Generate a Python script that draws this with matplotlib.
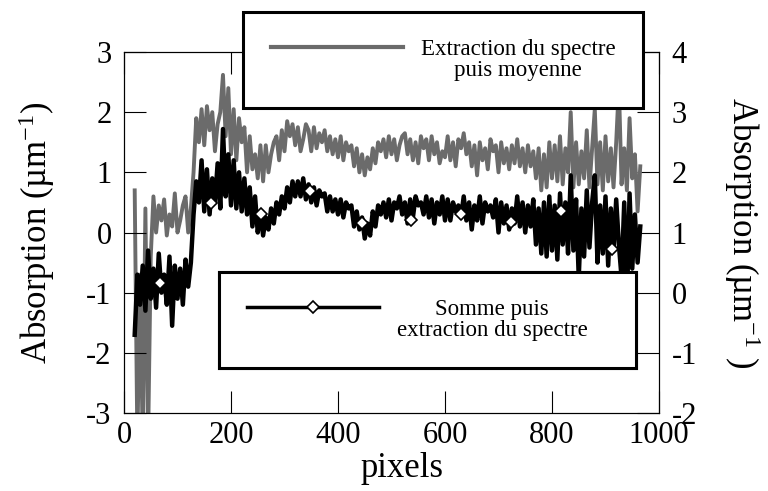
import numpy as np
import matplotlib
matplotlib.use("Agg")
import matplotlib.pyplot as plt
from matplotlib.lines import Line2D
from matplotlib.legend_handler import HandlerLine2D

plt.rcParams['font.family'] = ['Liberation Serif', 'DejaVu Serif']
plt.rcParams['mathtext.fontset'] = 'custom'
plt.rcParams['mathtext.rm'] = 'Liberation Serif'
plt.rcParams['mathtext.default'] = 'regular'
plt.rcParams['axes.unicode_minus'] = False

# pixel grid of the traces
pixels = np.arange(20, 966, 5)

# "Extraction du spectre puis moyenne" (right axis)
moyenne = [
    1.7, -2.5, 0.3, -2.5, 1.4, -2.5, 0.6, 1.6,
    1.0, 1.45, 1.2, 1.55, 0.95, 1.3, 1.1, 1.65, 1.0, 1.2, 1.45, 1.6, 1.0, 1.4,
    2.0, 2.9, 2.5,
    3.05, 2.45, 3.1, 2.7, 3.0, 2.35, 2.8, 3.0, 3.62, 2.6, 3.4, 2.3,
    3.05, 2.2, 2.9, 2.5, 2.75, 2.0, 2.6, 2.05, 2.3, 1.9, 2.45,
    1.85, 2.45, 2.0, 2.3, 2.5, 2.6, 2.2, 2.7,
    2.35, 2.85, 2.6, 2.8, 2.45, 2.75, 2.35, 2.55, 2.8, 2.7, 2.35, 2.75, 2.4, 2.65,
    2.5, 2.7, 2.35, 2.6, 2.3, 2.55, 2.25,
    2.6, 2.2, 2.5, 2.35, 2.45, 2.1, 2.4, 2.0, 2.3, 1.95, 2.25, 2.05,
    2.4, 2.15, 2.5, 2.35, 2.55, 2.25, 2.6, 2.3, 2.55, 2.2, 2.45, 2.6, 2.65, 2.3,
    2.55, 2.2, 2.5, 2.15, 2.6, 2.4, 2.55, 2.2, 2.6, 2.3, 2.5, 2.15, 2.35, 2.25,
    2.6, 2.2, 2.5, 2.1, 2.55, 2.4, 2.65, 2.3, 2.5, 2.1, 2.45, 1.95, 2.5, 2.2,
    2.4, 2.05, 2.55, 2.35, 2.45, 2.0, 2.5, 2.15, 2.4, 2.05, 2.45, 2.15, 2.55, 2.1,
    2.4, 2.0, 2.45, 2.1, 2.35, 1.9, 2.4, 1.7,
    2.3, 1.75, 2.5, 1.9, 2.45, 1.85, 2.6, 1.8, 2.4, 2.0, 3.0, 1.75, 2.5, 1.8,
    2.35, 1.9, 2.7, 1.75, 2.4, 3.05, 1.8, 2.5, 1.7, 2.6, 1.85, 2.4, 1.75, 2.5,
    3.45, 1.8, 2.4, 1.7, 2.9, 1.9, 2.3, 1.35, 2.1,
]

# "Somme puis extraction du spectre" (left axis)
somme = [
    -1.7, -0.7, -1.2, -0.55, -1.3, -0.3, -1.1, -0.6, -1.25, -0.35, -1.0,
    -0.7, -1.2, -0.4, -1.55, -0.55, -1.1, -0.6, -1.2, -0.45, -0.9, -0.5,
    0.3, 0.85, 0.5,
    1.2, 0.35, 1.05, 0.3, 0.9, 0.5, 1.15, 0.4, 1.72, 0.6, 1.3, 0.45,
    1.2, 0.4, 1.0, 0.35, 0.9, 0.3, 0.75,
    0.1, 0.6, 0.0, 0.35, -0.05, 0.25, 0.05,
    0.4, 0.15, 0.5, 0.3, 0.6, 0.4, 0.75, 0.5, 0.85, 0.6,
    0.85, 0.6, 0.9, 0.55, 0.8,
    0.5, 0.75, 0.45, 0.7, 0.6, 0.65, 0.35, 0.6, 0.35, 0.55, 0.3,
    0.55, 0.25, 0.5, 0.4, 0.45, 0.1, 0.35, 0.05, 0.25, -0.1, 0.15,
    -0.05, 0.35, 0.1, 0.45, 0.3, 0.5, 0.25, 0.55, 0.2, 0.5, 0.4, 0.6, 0.3,
    0.5, 0.15, 0.55, 0.25, 0.6, 0.45, 0.5, 0.3, 0.6, 0.25, 0.55, 0.15, 0.5,
    0.3, 0.6, 0.2,
    0.55, 0.2, 0.5, 0.35, 0.45, 0.25, 0.6, 0.2, 0.5, 0.05, 0.45, 0.2, 0.6,
    0.15, 0.5, 0.35, 0.45, 0.25, 0.55, 0.0, 0.5, 0.15, 0.45, 0.05, 0.4, 0.15,
    0.6, 0.1, 0.5, 0.0, 0.45, 0.1, 0.55, -0.2, 0.4, -0.35,
    0.5, -0.4, 0.6, -0.3, 0.45, -0.45, 0.65, -0.2, 0.5, -0.35, 0.95, -0.3,
    0.55, -0.75, 0.4, -0.4, 0.7, -0.25, 0.5, 0.95, -0.5, 0.45, -0.35, 0.6,
    -0.55, 0.4, -0.3, 0.55, -0.2, -0.75, 0.5, -1.2, 0.65, -0.6, 0.3, -0.5, 0.1,
]

# diamond markers on the black trace
marker_px = [67, 162, 257, 347, 444, 537, 630, 724, 817, 912]
marker_val = [-0.84, 0.49, 0.30, 0.69, 0.15, 0.20, 0.30, 0.18, 0.36, -0.28]

gray = '#6b6b6b'


class FirstLineHandler(HandlerLine2D):
    # put the legend sample level with the first text line
    def __init__(self, shift, **kw):
        super().__init__(**kw)
        self.shift = shift

    def create_artists(self, legend, orig_handle, xdescent, ydescent,
                       width, height, fontsize, trans):
        arts = super().create_artists(legend, orig_handle, xdescent, ydescent,
                                      width, height, fontsize, trans)
        for a in arts:
            a.set_ydata(np.asarray(a.get_ydata()) + self.shift)
        return arts


fig, ax = plt.subplots(figsize=(7.68, 4.91), dpi=100)
fig.subplots_adjust(left=124 / 768, right=659 / 768,
                    top=1 - 52 / 491, bottom=1 - 413 / 491)
ax2 = ax.twinx()

ax2.plot(pixels, moyenne, color=gray, lw=2.8)
ax.plot(pixels, somme, color='black', lw=3.2)
ax.plot(marker_px, marker_val, ls='none', marker='D', ms=6.5,
        mfc='white', mec='black', mew=1.2)
ax.set_zorder(ax2.get_zorder() + 1)
ax.patch.set_visible(False)

ax.set_xlim(0, 1000)
ax.set_ylim(-3, 3)
ax2.set_ylim(-2, 4)
ax.set_xticks(range(0, 1001, 200))
ax.set_yticks(range(-3, 4))
ax2.set_yticks(range(-2, 5))

ax.tick_params(axis='both', direction='in', length=16, width=0.8,
               labelsize=22, pad=9)
ax.tick_params(axis='x', top=True, pad=6)
ax2.tick_params(axis='y', direction='in', length=16, width=0.8,
                labelsize=22, pad=9)
for a in (ax, ax2):
    for sp in a.spines.values():
        sp.set_linewidth(0.8)

ax.set_xlabel('pixels', fontsize=25)
ax.set_ylabel('Absorption (µm$^{-1}$)', fontsize=25)
ax2.set_ylabel('Absorption (µm$^{-1}$ )', fontsize=25, rotation=270)
ax.yaxis.label.set_va('center')
ax2.yaxis.label.set_va('center')
ax.yaxis.set_label_coords(-0.163, 0.5)
ax2.yaxis.set_label_coords(1.155, 0.5)
ax.xaxis.label.set_va('center')
ax.xaxis.set_label_coords(0.52, -0.155)

fs = 16.5
h_gray = Line2D([], [], color=gray, lw=3)
h_black = Line2D([], [], color='black', lw=2.5, marker='D', ms=6.5,
                 mfc='white', mec='black', mew=1.2)

for handle, label, box in [
        (h_gray, 'Extraction du spectre\npuis moyenne', (243, 12, 400)),
        (h_black, 'Somme puis\nextraction du spectre', (219, 272, 417))]:
    x0, y0, w = box
    leg = ax.legend([handle], [label], loc='upper left',
                    bbox_to_anchor=(x0 / 768, 1 - y0 / 491, w / 768, 0),
                    bbox_transform=fig.transFigure, mode='expand',
                    borderaxespad=0, fontsize=fs, fancybox=False,
                    framealpha=1, edgecolor='black', numpoints=1,
                    handlelength=5.8, handletextpad=0.75, borderpad=1.2,
                    handler_map={handle: FirstLineHandler(0.55 * fs)})
    leg.get_frame().set_linewidth(2.2)
    for t in leg.get_texts():
        t.set_multialignment('center')
        t.set_linespacing(0.95)
    ax.add_artist(leg)

fig.savefig('out.png', dpi=100)
